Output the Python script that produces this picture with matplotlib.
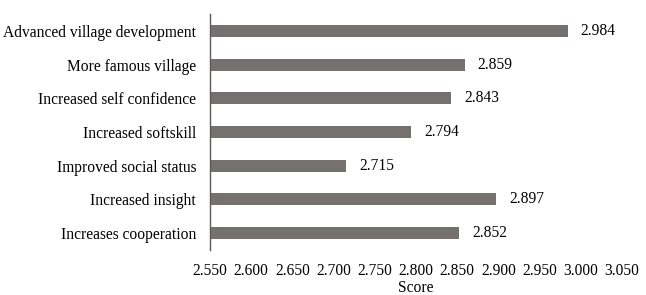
import matplotlib.pyplot as plt

plt.rcParams['font.family'] = ['Liberation Serif', 'DejaVu Serif']

# data, top to bottom as shown
labels = ['Advanced village development', 'More famous village', 'Increased self confidence',
          'Increased softskill', 'Improved social status', 'Increased insight', 'Increases cooperation']
scores = [2.984, 2.859, 2.843, 2.794, 2.715, 2.897, 2.852]
ticks = [2.55, 2.60, 2.65, 2.70, 2.75, 2.80, 2.85, 2.90, 2.95, 3.00, 3.05]

fs = 11.2
fig = plt.figure(figsize=(6.46, 2.95), dpi=100)
ax = fig.add_axes([210 / 646, 1 - 250 / 295, 412 / 646, 236 / 295])

ypos = list(range(len(labels)))[::-1]
ax.barh(ypos, [s - 2.55 for s in scores], left=2.55, height=0.36, color='#767171')
for y, s in zip(ypos, scores):
    ax.text(s + 0.016, y, '%.3f' % s, va='center', ha='left', fontsize=fs)

ax.set_xlim(2.55, 3.05)
ax.set_ylim(-0.5, 6.5)
ax.set_xticks(ticks)
ax.set_xticklabels(['%.3f' % t for t in ticks], fontsize=fs)
ax.set_yticks(ypos)
ax.set_yticklabels(labels, fontsize=fs)
ax.tick_params(length=0)
ax.tick_params(axis='y', pad=10)
ax.tick_params(axis='x', pad=9.5)
for s in ['top', 'right', 'bottom']:
    ax.spines[s].set_visible(False)
ax.spines['left'].set_color('#595959')
ax.spines['left'].set_linewidth(1.0)
ax.set_xlabel('Score', fontsize=fs, labelpad=0.5)

fig.savefig('out.png', dpi=100)
